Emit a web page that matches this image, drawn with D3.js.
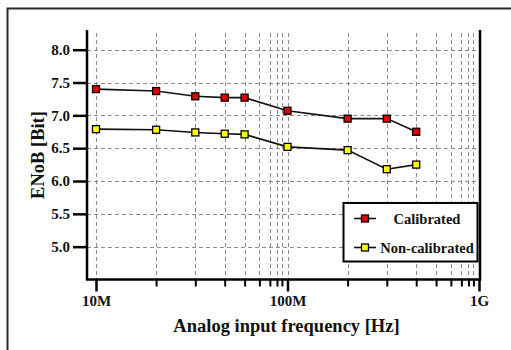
<!DOCTYPE html>
<html>
<head>
<meta charset="utf-8">
<script src="https://cdn.jsdelivr.net/npm/d3@7/dist/d3.min.js"></script>
<style>
  html, body { margin: 0; padding: 0; background: #fff; }
  svg { display: block; }
</style>
</head>
<body>
<svg id="chart" width="511" height="350"></svg>
<script>
// Measurement frequencies (Hz) and effective number of bits
const frequencies = [10e6, 20.6e6, 33e6, 47e6, 59.7e6, 100e6, 206e6, 330e6, 470e6];
const calibrated = [7.40, 7.37, 7.29, 7.27, 7.27, 7.07, 6.95, 6.95, 6.75];
const nonCalibrated = [6.79, 6.78, 6.74, 6.72, 6.71, 6.52, 6.47, 6.18, 6.25];

const seriesNames = ["Calibrated", "Non-calibrated"];
const seriesColors = ["#e00000", "#ffff00"];

// Axis ticks
const yTicks = [5.0, 5.5, 6.0, 6.5, 7.0, 7.5, 8.0];
const xMajorTicks = [1e7, 1e8, 1e9];
const xMajorLabels = ["10M", "100M", "1G"];
const xMinorTicks = [
  20.6e6, 33e6, 47e6, 59.7e6, 71.3e6, 80.9e6, 88.1e6, 93.5e6,
  206e6, 330e6, 470e6, 597e6, 713e6, 809e6, 881e6, 935e6
];

const FONT = "'Liberation Serif', 'Times New Roman', serif";

const svg = d3.select("#chart");

const plotLeft = 87, plotRight = 480, plotTop = 30, plotBottom = 279.5;

const x = d3.scaleLog().domain([8.975e6, 1.012e9]).range([plotLeft, plotRight]);
const y = d3.scaleLinear().domain([4.5, 8.3]).range([plotBottom, plotTop]);

function styleText(sel, size) {
  sel.style("font-family", FONT)
    .style("font-weight", "bold")
    .style("font-size", size + "px")
    .style("fill", "#111");
}

// Outer frame (extends past the right and bottom edges)
svg.append("rect")
  .attr("x", 7.5).attr("y", 8.5)
  .attr("width", 520).attr("height", 360)
  .attr("fill", "#fff")
  .attr("stroke", "#2a2a2a")
  .attr("stroke-width", 2);

// Grid
const grid = svg.append("g")
  .attr("stroke", "#8a8a8a")
  .attr("stroke-width", 1)
  .attr("stroke-dasharray", "4,3");

grid.selectAll("line.h").data(yTicks).join("line")
  .attr("class", "h")
  .attr("x1", plotLeft).attr("x2", plotRight)
  .attr("y1", d => Math.round(y(d)) + 0.5)
  .attr("y2", d => Math.round(y(d)) + 0.5);

grid.selectAll("line.v").data(xMajorTicks.slice(0, 2).concat(xMinorTicks)).join("line")
  .attr("class", "v")
  .attr("x1", d => Math.round(x(d)) + 0.5)
  .attr("x2", d => Math.round(x(d)) + 0.5)
  .attr("y1", plotTop + 3).attr("y2", plotBottom);

// Y axis
const yAxis = d3.axisLeft(y)
  .tickValues(yTicks)
  .tickFormat(d3.format(".1f"))
  .tickSize(14)
  .tickPadding(3);

const gy = svg.append("g")
  .attr("transform", `translate(${plotLeft},0)`)
  .call(yAxis);
gy.select(".domain").remove();
gy.selectAll(".tick line").attr("stroke", "#000").attr("stroke-width", 2.5);
styleText(gy.selectAll(".tick text"), 15);

// X axis: major ticks
const xAxisMajor = d3.axisBottom(x)
  .tickValues(xMajorTicks)
  .tickFormat((d, i) => xMajorLabels[i])
  .tickSize(12)
  .tickPadding(4);

const gx = svg.append("g")
  .attr("transform", `translate(0,${plotBottom})`)
  .call(xAxisMajor);
gx.select(".domain").remove();
gx.selectAll(".tick line").attr("stroke", "#000").attr("stroke-width", 2.5);
styleText(gx.selectAll(".tick text"), 15);

// X axis: minor ticks
const xAxisMinor = d3.axisBottom(x)
  .tickValues(xMinorTicks)
  .tickFormat("")
  .tickSize(7);
const gxm = svg.append("g")
  .attr("transform", `translate(0,${plotBottom})`)
  .call(xAxisMinor);
gxm.select(".domain").remove();
gxm.selectAll(".tick line").attr("stroke", "#000").attr("stroke-width", 2);

// Axis frame: left, bottom, right
svg.append("path")
  .attr("d", `M${plotLeft},${plotTop}V${plotBottom}H${plotRight}V${plotTop}`)
  .attr("fill", "none")
  .attr("stroke", "#000")
  .attr("stroke-width", 2.5);

// Series
const series = [calibrated, nonCalibrated];
const line = d3.line()
  .x((d, i) => x(frequencies[i]))
  .y(d => y(d));

series.forEach((values, s) => {
  svg.append("path")
    .datum(values)
    .attr("d", line)
    .attr("fill", "none")
    .attr("stroke", "#111")
    .attr("stroke-width", 1.6);

  svg.append("g").selectAll("rect").data(values).join("rect")
    .attr("x", (d, i) => x(frequencies[i]) - 3.5)
    .attr("y", d => y(d) - 3.5)
    .attr("width", 7).attr("height", 7)
    .attr("fill", seriesColors[s])
    .attr("stroke", "#000")
    .attr("stroke-width", 1.3);
});

// Axis titles
styleText(svg.append("text")
  .attr("x", 286.5)
  .attr("y", 332)
  .attr("text-anchor", "middle")
  .text("Analog input frequency [Hz]"), 18.5);

styleText(svg.append("text")
  .attr("transform", `translate(44,155) rotate(-90)`)
  .attr("text-anchor", "middle")
  .text("ENoB [Bit]"), 18.5);

// Legend
const legend = svg.append("g");
legend.append("rect")
  .attr("x", 343.5).attr("y", 203)
  .attr("width", 134).attr("height", 58.5)
  .attr("fill", "#fff")
  .attr("stroke", "#000")
  .attr("stroke-width", 2);

const legendRows = [218.5, 247.5];
seriesNames.forEach((name, s) => {
  const ly = legendRows[s];
  legend.append("line")
    .attr("x1", 354).attr("x2", 376)
    .attr("y1", ly).attr("y2", ly)
    .attr("stroke", "#111").attr("stroke-width", 1.6);
  legend.append("rect")
    .attr("x", 365 - 3.5).attr("y", ly - 3.5)
    .attr("width", 7).attr("height", 7)
    .attr("fill", seriesColors[s])
    .attr("stroke", "#000").attr("stroke-width", 1.3);
  styleText(legend.append("text")
    .attr("x", 427).attr("y", ly + 5)
    .attr("text-anchor", "middle")
    .text(name), 14.5);
});
</script>
</body>
</html>
